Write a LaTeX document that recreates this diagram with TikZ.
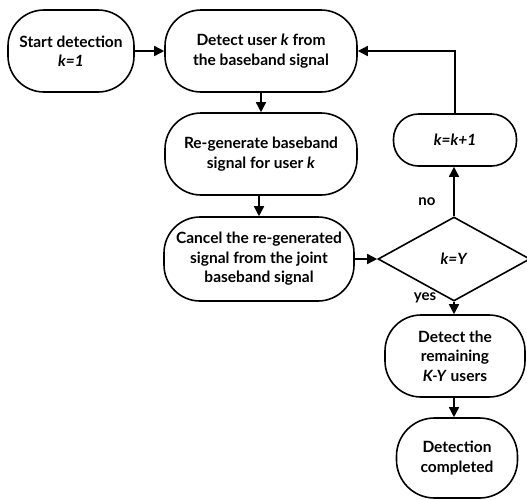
\documentclass[tikz,border=0pt]{standalone}
\usepackage{fontspec}
\setmainfont{Lato}
\usetikzlibrary{shapes.geometric,arrows.meta}
\begin{document}
\begin{tikzpicture}[x=1pt,y=-1pt,
  every node/.style={font=\bfseries\fontsize{15.5}{19.5}\selectfont, align=center},
  proc/.style={draw, line width=1.6pt, rounded corners=36pt, inner sep=0pt},
  dec/.style={draw, line width=1.6pt, diamond, inner sep=0pt, minimum width=152pt, minimum height=84pt},
  arr/.style={line width=1.6pt, -{Triangle[length=10pt,width=10pt]}},
  lbl/.style={font=\bfseries\fontsize{15}{17}\selectfont}
]
\useasboundingbox (0,0) rectangle (527,499);
\node[proc, minimum width=126pt, minimum height=82pt] (start) at (71,51) {Start detection\\\textit{k=1}};
\node[proc, minimum width=192pt, minimum height=82pt] (detect) at (261,51) {Detect user \textit{k} from\\the baseband signal};
\node[proc, minimum width=192pt, minimum height=82pt] (regen) at (261,154) {Re-generate baseband\\signal for user \textit{k}};
\node[proc, minimum width=190pt, minimum height=84pt] (cancel) at (259,259) {Cancel the re-generated\\signal from the joint\\baseband signal};
\node[dec] (dec) at (454,259) {\textit{k=Y}};
\node[proc, rounded corners=25pt, minimum width=123pt, minimum height=52pt] (inc) at (455,140) {\textit{k=k+1}};
\node[proc, minimum width=140pt, minimum height=82pt] (rem) at (455,356) {Detect the\\remaining\\\textit{K-Y} users};
\node[proc, rounded corners=38pt, minimum width=121pt, minimum height=80pt] (done) at (457,458) {Detection\\completed};
\coordinate (corner) at (455,51);
\draw[arr] (start.east |- detect.west) -- (detect.west);
\draw[arr] (detect.south -| regen.north) -- (regen.north);
\draw[arr] (regen.south -| cancel.north) -- (cancel.north);
\draw[arr] (cancel.east) -- (dec.west);
\draw[arr] (dec.north) -- (inc.south -| dec.north);
\draw[arr] (inc.north -| corner) -- (corner) -- (detect.east);
\draw[arr] (dec.south) -- (rem.north -| dec.south);
\draw[arr] (rem.south -| dec.south) -- (done.north -| dec.south);
\node[lbl] (no) at (427,202) {no};
\node[lbl] (yes) at (425,298) {yes};
\end{tikzpicture}
\end{document}
